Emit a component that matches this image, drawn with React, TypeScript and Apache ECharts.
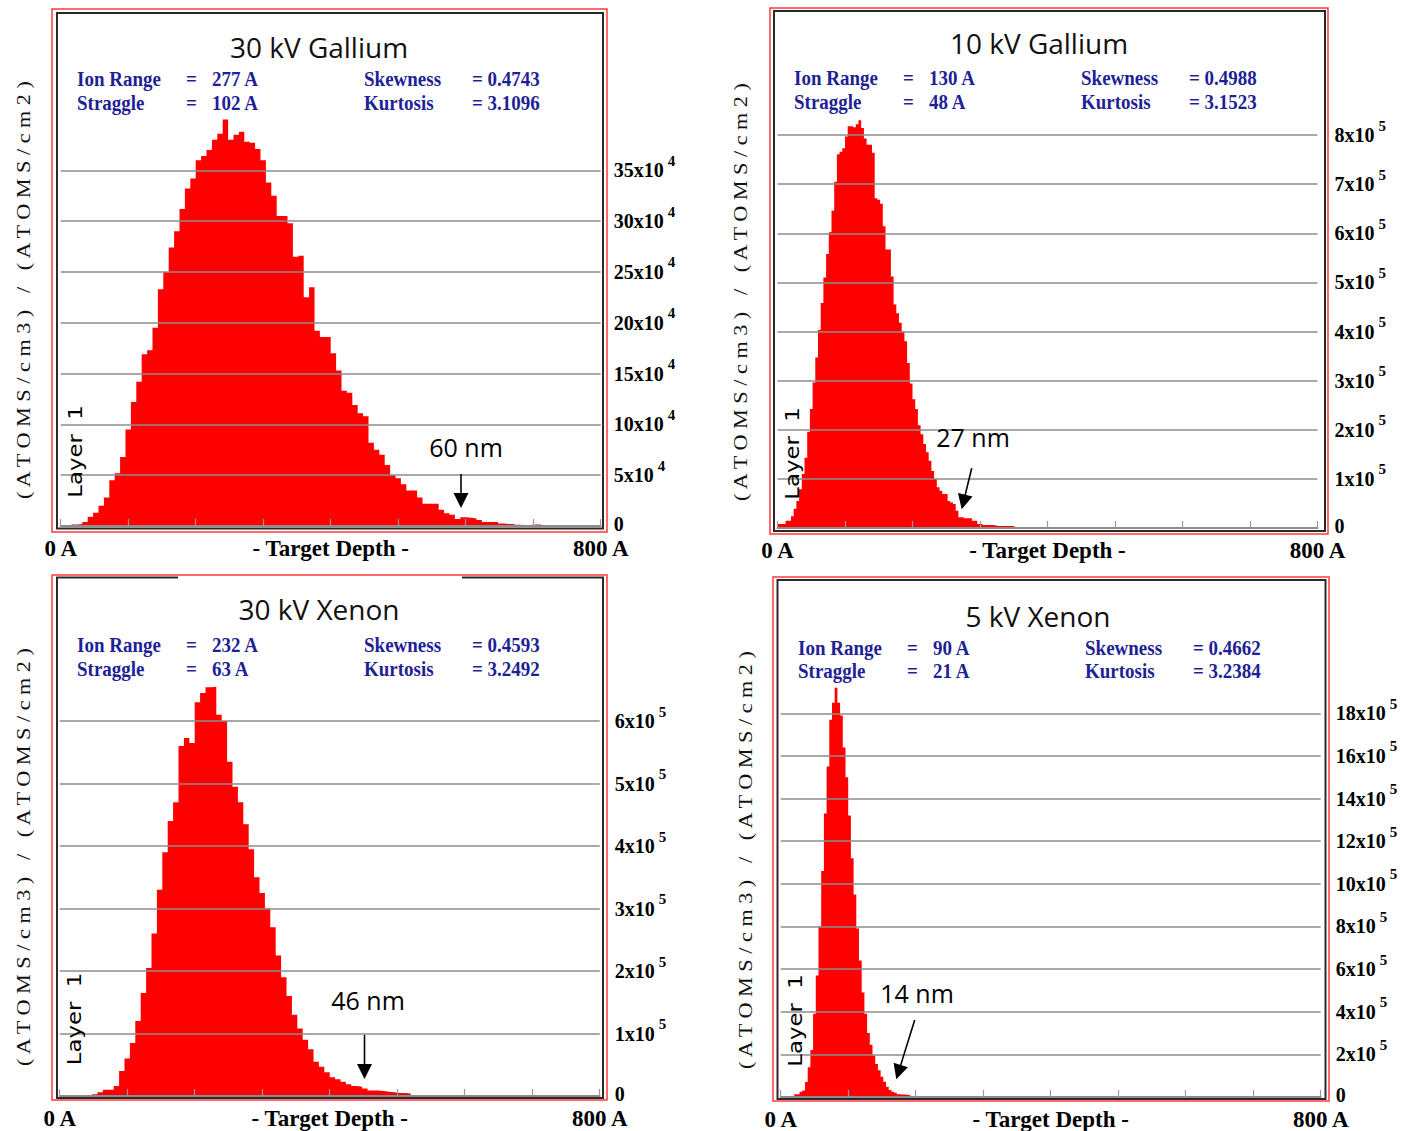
import React, { useEffect, useRef } from 'react';
import * as echarts from 'echarts';

// ---------- DATA ----------
// Target depth axis (Angstrom)
const depthMax = 800;
const depthTickStep = 100;

// 30 kV Gallium: 8 A bins, units of 1e4 (atoms/cm3)/(atoms/cm2)
const ga30BinWidth = 8;
const ga30Conc = [
  0, 0, 0.15, 0.2, 0.4, 0.9, 1.3, 2.0, 2.8, 4.5,
  5.2, 6.8, 9.5, 12.2, 14.2, 16.9, 17.3, 19.5, 23.3, 25.0,
  27.4, 29.0, 31.2, 33.2, 34.2, 36.0, 36.4, 37.0, 38.0, 38.6,
  40.0, 38.0, 38.5, 38.8, 37.8, 37.7, 37.1, 36.0, 33.8, 32.5,
  30.5, 30.5, 29.8, 26.5, 26.6, 22.5, 23.5, 19.2, 18.6, 18.6,
  17.0, 15.3, 13.3, 13.1, 11.9, 11.1, 10.8, 8.2, 7.5, 7.0,
  6.0, 5.0, 4.7, 4.1, 3.5, 3.5, 2.8, 2.2, 2.2, 2.2,
  1.6, 1.25, 1.1, 0.7, 0.85, 0.8, 0.75, 0.6, 0.4, 0.4,
  0.4, 0.25, 0.2, 0.2, 0.12, 0.1, 0.1, 0.15, 0.15, 0.05,
  0, 0, 0.1, 0.05, 0, 0, 0, 0.1, 0, 0,
];

// 10 kV Gallium: 4 A bins, units of 1e5
const ga10BinWidth = 4;
const ga10Conc = [
  0.08, 0.08, 0.08, 0.15, 0.15, 0.24, 0.39, 0.55, 0.79, 1.1,
  1.43, 1.96, 2.42, 2.96, 3.47, 4.03, 4.58, 5.1, 5.58, 6.02,
  6.46, 7.05, 7.61, 7.66, 7.73, 7.97, 8.18, 8.18, 8.16, 8.22,
  8.3, 8.14, 7.93, 7.8, 7.8, 7.64, 6.71, 6.68, 6.6, 6.14,
  5.67, 5.67, 5.12, 4.55, 4.37, 4.18, 4.0, 3.8, 3.36, 2.94,
  2.62, 2.42, 2.09, 1.91, 1.71, 1.54, 1.37, 1.16, 1.0, 0.83,
  0.76, 0.69, 0.69, 0.55, 0.52, 0.49, 0.35, 0.22, 0.22, 0.2,
  0.2, 0.2, 0.15, 0.15, 0.08, 0.08, 0.06, 0.06, 0.06, 0.06,
  0.05, 0.04, 0.04, 0.04, 0.04, 0.04, 0.04, 0.03,
];

// 30 kV Xenon: 8 A bins, units of 1e5
const xe30BinWidth = 8;
const xe30Conc = [
  0, 0, 0, 0, 0, 0, 0.03, 0.06, 0.1, 0.1,
  0.16, 0.4, 0.6, 0.85, 1.2, 1.65, 2.05, 2.6, 3.3, 3.9,
  4.4, 4.7, 5.6, 5.73, 5.65, 6.3, 6.45, 6.54, 6.55, 6.1,
  6.0, 5.35, 4.95, 4.7, 4.35, 3.95, 3.5, 3.25, 3.0, 2.7,
  2.25, 1.9, 1.6, 1.3, 1.08, 0.9, 0.75, 0.55, 0.47, 0.38,
  0.3, 0.27, 0.23, 0.19, 0.16, 0.15, 0.12, 0.09, 0.09, 0.08,
  0.07, 0.06, 0.05, 0.05, 0.04,
];

// 5 kV Xenon: 4 A bins, units of 1e5
const xe5BinWidth = 4;
const xe5Conc = [
  0, 0, 0, 0, 0.05, 0.13, 0.13, 0.25, 0.3, 0.7,
  1.4, 2.2, 3.9, 5.7, 8.0, 10.6, 13.3, 15.5, 17.7, 18.5,
  19.2, 18.5, 17.9, 16.4, 15.0, 13.2, 11.2, 9.5, 7.9, 6.4,
  4.9, 3.9, 3.0, 2.45, 1.95, 1.55, 1.25, 0.95, 0.72, 0.48,
  0.33, 0.25, 0.2, 0.13, 0.12, 0.12, 0.1, 0.08,
];

const panelConc = [ga30Conc, ga10Conc, xe30Conc, xe5Conc];
const panelBinWidths = [ga30BinWidth, ga10BinWidth, xe30BinWidth, xe5BinWidth];

const titles = ['30 kV Gallium', '10 kV Gallium', '30 kV Xenon', '5 kV Xenon'];
const ionRanges = ['277 A', '130 A', '232 A', '90 A'];
const straggles = ['102 A', '48 A', '63 A', '21 A'];
const skewnesses = ['= 0.4743', '= 0.4988', '= 0.4593', '= 0.4662'];
const kurtoses = ['= 3.1096', '= 3.1523', '= 3.2492', '= 3.2384'];
const rangeNotes = ['60 nm', '27 nm', '46 nm', '14 nm'];
const yMaxes = [35, 8, 6, 18];
const yIntervals = [5, 1, 1, 2];
const yExponents = [4, 5, 5, 5];
const yAxisTitle = '( A T O M S / c m 3 )   /   ( A T O M S / c m 2 )';
const layerLabel = 'Layer  1';
const depthName = '- Target Depth -';

// ---------- LAYOUT ----------
const layouts = [
  {
    grid: { left: 60.7, top: 170.3, width: 540, height: 355.7 }, labelMargin: 13,
    red: [52, 9, 555, 523], frame: [57, 13, 546, 515.5], topGap: null,
    title: [319, 47], stats: [77, 79, 103], atoms: [24, 290], layer: [75.4, 451.5],
    note: [466, 447], arrow: [[461, 474], [461, 508]],
  },
  {
    grid: { left: 777.5, top: 135, width: 540, height: 393 }, labelMargin: 17,
    red: [770, 8, 558, 526], frame: [774, 11, 551, 520], topGap: null,
    title: [1039, 43], stats: [794, 78, 102], atoms: [741, 292], layer: [792.5, 453.5],
    note: [973, 437], arrow: [[971.7, 468.3], [961.7, 509.3]],
  },
  {
    grid: { left: 59.7, top: 721, width: 540, height: 375 }, labelMargin: 15,
    red: [52, 575, 555, 525], frame: [57, 577.5, 546, 520.5], topGap: [178, 462],
    title: [319, 609], stats: [77, 645, 669], atoms: [23.5, 857], layer: [75, 1019],
    note: [368, 1000], arrow: [[364.5, 1035], [364.5, 1079]],
  },
  {
    grid: { left: 780.7, top: 713.3, width: 540, height: 383.7 }, labelMargin: 15,
    red: [773, 577, 556, 524], frame: [777.5, 580, 548, 519], topGap: null,
    title: [1038, 616], stats: [798, 648, 671], atoms: [745.5, 860], layer: [796, 1020.5],
    note: [917, 993], arrow: [[914.7, 1020], [896.3, 1079.3]],
  },
];

const SERIF = 'Liberation Serif, Times New Roman, serif';
const SANS = 'Open Sans, Noto Sans, sans-serif';
const STAT_COLOR = '#1f1f96';

function toSteps(values: number[], binWidth: number) {
  const pts: number[][] = values.map((v, i) => [i * binWidth, v]);
  pts.push([values.length * binWidth, 0]);
  return pts;
}

function arrowElements(from: number[], tip: number[]) {
  const dx = tip[0] - from[0];
  const dy = tip[1] - from[1];
  const len = Math.hypot(dx, dy);
  const ux = dx / len, uy = dy / len;
  const headLen = 15, half = 7.5;
  const bx = tip[0] - ux * headLen, by = tip[1] - uy * headLen;
  const px = -uy, py = ux;
  return [
    { type: 'line', z: 20, silent: true, shape: { x1: from[0], y1: from[1], x2: bx + ux * 2, y2: by + uy * 2 }, style: { stroke: '#000', lineWidth: 1.6 } },
    { type: 'polygon', z: 20, silent: true, shape: { points: [[tip[0], tip[1]], [bx + px * half, by + py * half], [bx - px * half, by - py * half]] }, style: { fill: '#000' } },
  ];
}

function buildGraphics() {
  const els: any[] = [];
  layouts.forEach((l, i) => {
    // outer red frame
    els.push({ type: 'rect', z: 15, silent: true, shape: { x: l.red[0], y: l.red[1], width: l.red[2], height: l.red[3] }, style: { fill: 'none', stroke: '#ff3b3b', lineWidth: 1.5 } });
    // inner dark frame
    const [fx, fy, fw, fh] = l.frame;
    if (l.topGap) {
      els.push({ type: 'polyline', z: 15, silent: true, shape: { points: [[l.topGap[0], fy], [fx, fy], [fx, fy + fh], [fx + fw, fy + fh], [fx + fw, fy], [l.topGap[1], fy]] }, style: { fill: 'none', stroke: '#2a2a2a', lineWidth: 2 } });
    } else {
      els.push({ type: 'rect', z: 15, silent: true, shape: { x: fx, y: fy, width: fw, height: fh }, style: { fill: 'none', stroke: '#2a2a2a', lineWidth: 2 } });
    }
    // title
    els.push({ type: 'text', z: 20, silent: true, x: l.title[0], y: l.title[1], style: { text: titles[i], fontFamily: SANS, fontSize: 28, fill: '#111', align: 'center', verticalAlign: 'middle' } });
    // stats
    const [sx, r1, r2] = l.stats;
    const statStyle = { fontFamily: SERIF, fontWeight: 'bold', fontSize: 19, fill: STAT_COLOR, align: 'left', verticalAlign: 'middle' };
    const cells: [number, number, string][] = [
      [0, r1, 'Ion Range'], [109, r1, '='], [135, r1, ionRanges[i]], [287, r1, 'Skewness'], [395, r1, skewnesses[i]],
      [0, r2, 'Straggle'], [109, r2, '='], [135, r2, straggles[i]], [287, r2, 'Kurtosis'], [395, r2, kurtoses[i]],
    ];
    cells.forEach(([dx, y, t]) => {
      els.push({ type: 'text', z: 20, silent: true, x: sx + dx, y, scaleY: 1.15, style: { ...statStyle, text: t } });
    });
    // rotated y-axis title
    els.push({ type: 'text', z: 20, silent: true, x: l.atoms[0], y: l.atoms[1], rotation: Math.PI / 2, scaleX: 1.17, style: { text: yAxisTitle, fontFamily: SERIF, fontSize: 19, fill: '#111', align: 'center', verticalAlign: 'middle' } });
    // layer label
    els.push({ type: 'text', z: 20, silent: true, x: l.layer[0], y: l.layer[1], rotation: Math.PI / 2, scaleX: 1.2, style: { text: layerLabel, fontFamily: 'DejaVu Sans, sans-serif', fontSize: 19, fill: '#000', align: 'center', verticalAlign: 'middle' } });
    // note + arrow
    els.push({ type: 'text', z: 20, silent: true, x: l.note[0], y: l.note[1], style: { text: rangeNotes[i], fontFamily: SANS, fontSize: 25, fill: '#000', align: 'center', verticalAlign: 'middle' } });
    arrowElements(l.arrow[0], l.arrow[1]).forEach((e) => els.push(e));
  });
  return els;
}

export default function App() {
  const ref = useRef<HTMLDivElement>(null);
  useEffect(() => {
    if (!ref.current) return;
    const chart = echarts.init(ref.current, undefined, { renderer: 'svg' });
    const option: any = {
      animation: false,
      backgroundColor: '#ffffff',
      grid: layouts.map((l) => ({ ...l.grid, containLabel: false, outerBoundsMode: 'none' })),
      xAxis: layouts.map((l, i) => ({
        gridIndex: i, type: 'value', min: 0, max: depthMax, interval: depthTickStep, z: 5,
        axisLine: { show: true, lineStyle: { color: '#8c8c8c', width: 2 } },
        axisTick: { show: true, inside: true, length: 7, lineStyle: { color: '#9a9a9a', width: 1.2 } },
        splitLine: { show: false },
        axisLabel: {
          margin: 10, showMinLabel: true, showMaxLabel: true,
          formatter: (v: number) => (v === 0 ? '0 A' : v === depthMax ? depthMax + ' A' : ''),
          fontFamily: SERIF, fontWeight: 'bold', fontSize: 23, color: '#000', lineHeight: 24,
        },
        name: depthName, nameLocation: 'middle', nameGap: 10, nameMoveOverlap: false,
        nameTextStyle: { fontFamily: SERIF, fontWeight: 'bold', fontSize: 23, color: '#000', verticalAlign: 'top', lineHeight: 24 },
      })),
      yAxis: layouts.map((l, i) => ({
        gridIndex: i, type: 'value', position: 'right', min: 0, max: yMaxes[i], interval: yIntervals[i], z: 5,
        axisLine: { show: false }, axisTick: { show: false },
        splitLine: { show: true, lineStyle: { color: '#8c8c8c', width: 1.5 } },
        axisLabel: {
          margin: l.labelMargin,
          formatter: (v: number) => (v === 0 ? '{z|0}' : `{n|${v}x10}{s|${yExponents[i]}}`),
          rich: {
            z: { fontFamily: SERIF, fontWeight: 'bold', fontSize: 20, color: '#000', lineHeight: 18, padding: [0, 0, 4, 0] },
            n: { fontFamily: SERIF, fontWeight: 'bold', fontSize: 20, color: '#000', lineHeight: 34, verticalAlign: 'middle' },
            s: { fontFamily: SERIF, fontWeight: 'bold', fontSize: 15, color: '#000', verticalAlign: 'top', padding: [0, 0, 0, 4] },
          },
        },
      })),
      series: panelConc.map((c, i) => ({
        type: 'line', xAxisIndex: i, yAxisIndex: i, data: toSteps(c, panelBinWidths[i]),
        step: 'end', symbol: 'none', showSymbol: false, clip: false, silent: true, z: 2,
        lineStyle: { width: 0, color: '#ff0000' }, itemStyle: { color: '#ff0000' },
        areaStyle: { color: '#ff0000', opacity: 1 },
        emphasis: { disabled: true },
      })),
      graphic: { elements: buildGraphics() },
    };
    chart.setOption(option);
    return () => chart.dispose();
  }, []);
  return <div ref={ref} style={{ position: 'absolute', left: 0, top: 0, width: 1413, height: 1131, background: '#fff' }} />;
}
